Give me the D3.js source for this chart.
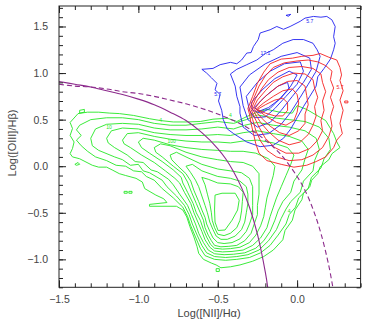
<!DOCTYPE html>
<html><head><meta charset="utf-8">
<script src="https://cdn.jsdelivr.net/npm/d3@7"></script>
<style>body{margin:0;background:#fff}text{font-family:"Liberation Sans",Arial,sans-serif}</style>
</head><body>
<svg id="c" width="365" height="322"></svg>
<script>
// Axis ticks
const xMajor = [-1.5, -1.0, -0.5, 0.0];
const yMajor = [-1.0, -0.5, 0.0, 0.5, 1.0, 1.5];
const xMinor = d3.range(-15, 5).map(d => d / 10);
const yMinor = d3.range(-13, 18).map(d => d / 10);

// Demarcation lines: [log NII/Ha, log OIII/Hb]
const kauffmann = [[-1.5,0.91],[-1.4,0.88],[-1.3,0.85],[-1.2,0.81],[-1.1,0.77],[-1.0,0.72],[-0.9,0.66],[-0.8,0.58],[-0.7,0.49],[-0.6,0.36],[-0.5,0.19],[-0.45,0.08],[-0.4,-0.06],[-0.35,-0.23],[-0.3,-0.44],[-0.25,-0.73],[-0.2,-1.14],[-0.185,-1.3]];
const kewley = [[-1.5,0.88],[-1.4,0.86],[-1.3,0.85],[-1.2,0.83],[-1.1,0.8],[-1.0,0.78],[-0.9,0.75],[-0.8,0.71],[-0.7,0.67],[-0.6,0.62],[-0.5,0.56],[-0.4,0.49],[-0.3,0.4],[-0.2,0.28],[-0.1,0.12],[0.0,-0.11],[0.05,-0.26],[0.1,-0.46],[0.15,-0.72],[0.2,-1.07],[0.225,-1.3]];

// Star-forming / composite density contours (outer to inner)
const greenContours = [
 [[-1.43,0.47],[-1.38,0.565],[-1.32,0.58],[-1.25,0.58],[-1.18,0.57],[-1.12,0.565],[-1.03,0.545],[-0.93,0.51],[-0.86,0.49],[-0.78,0.475],[-0.7,0.475],[-0.61,0.48],[-0.53,0.505],[-0.44,0.515],[-0.38,0.48],[-0.315,0.535],[-0.25,0.58],[-0.19,0.61],[-0.11,0.58],[-0.03,0.57],[0.0,0.65],[0.06,0.61],[0.1,0.57],[0.18,0.49],[0.23,0.35],[0.25,0.26],[0.27,0.2],[0.22,0.135],[0.2,0.07],[0.145,-0.007],[0.13,-0.08],[0.092,-0.15],[0.08,-0.22],[0.04,-0.29],[0.03,-0.36],[-0.013,-0.47],[-0.03,-0.58],[-0.076,-0.69],[-0.09,-0.79],[-0.15,-0.9],[-0.21,-0.97],[-0.28,-1.02],[-0.36,-1.06],[-0.42,-1.08],[-0.48,-1.09],[-0.51,-1.06],[-0.54,-1.04],[-0.59,-1.0],[-0.62,-0.935],[-0.63,-0.865],[-0.65,-0.76],[-0.675,-0.65],[-0.695,-0.545],[-0.72,-0.47],[-0.76,-0.43],[-0.93,-0.43],[-0.93,-0.41],[-0.82,-0.39],[-0.84,-0.35],[-0.89,-0.31],[-0.96,-0.24],[-0.975,-0.17],[-1.015,-0.13],[-1.08,-0.1],[-1.12,-0.08],[-1.165,-0.04],[-1.2,-0.01],[-1.25,-0.01],[-1.29,0.01],[-1.33,0.045],[-1.37,0.08],[-1.415,0.1],[-1.43,0.135],[-1.415,0.19],[-1.405,0.26],[-1.43,0.33],[-1.415,0.405]],
 [[-1.36,0.22],[-1.39,0.28],[-1.36,0.33],[-1.39,0.39],[-1.37,0.44],[-1.3,0.5],[-1.2,0.52],[-1.1,0.52],[-1.0,0.5],[-0.9,0.46],[-0.8,0.44],[-0.7,0.44],[-0.6,0.46],[-0.5,0.48],[-0.4,0.46],[-0.32,0.5],[-0.25,0.55],[-0.15,0.52],[-0.05,0.5],[0.05,0.48],[0.14,0.42],[0.2,0.3],[0.21,0.18],[0.17,0.08],[0.15,-0.02],[0.09,-0.12],[0.07,-0.24],[0.01,-0.34],[-0.01,-0.44],[-0.05,-0.52],[-0.07,-0.62],[-0.12,-0.74],[-0.17,-0.85],[-0.23,-0.93],[-0.3,-0.98],[-0.38,-1.0],[-0.45,-1.01],[-0.52,-1.0],[-0.58,-0.96],[-0.61,-0.88],[-0.64,-0.76],[-0.67,-0.64],[-0.69,-0.54],[-0.72,-0.44],[-0.78,-0.34],[-0.85,-0.24],[-0.9,-0.15],[-0.95,-0.11],[-0.98,-0.06],[-1.03,-0.05],[-1.08,0.0],[-1.14,0.01],[-1.2,0.06],[-1.27,0.1],[-1.32,0.16]],
 [[-1.3,0.3],[-1.27,0.4],[-1.2,0.45],[-1.1,0.46],[-1.0,0.45],[-0.9,0.41],[-0.8,0.39],[-0.7,0.39],[-0.6,0.4],[-0.5,0.42],[-0.4,0.4],[-0.33,0.44],[-0.25,0.47],[-0.15,0.44],[-0.05,0.42],[0.05,0.38],[0.12,0.3],[0.14,0.18],[0.11,0.06],[0.1,-0.05],[0.04,-0.16],[0.02,-0.28],[-0.04,-0.38],[-0.07,-0.46],[-0.1,-0.56],[-0.13,-0.68],[-0.18,-0.8],[-0.24,-0.9],[-0.31,-0.95],[-0.38,-0.97],[-0.45,-0.98],[-0.52,-0.97],[-0.57,-0.93],[-0.6,-0.85],[-0.63,-0.74],[-0.66,-0.62],[-0.68,-0.52],[-0.71,-0.42],[-0.76,-0.32],[-0.82,-0.22],[-0.85,-0.15],[-0.93,-0.07],[-0.97,-0.05],[-1.0,0.02],[-1.05,0.01],[-1.1,0.07],[-1.15,0.1],[-1.25,0.17],[-1.29,0.22]],
 [[-1.2,0.3],[-1.17,0.38],[-1.1,0.41],[-1.0,0.4],[-0.9,0.36],[-0.8,0.34],[-0.7,0.33],[-0.6,0.33],[-0.5,0.34],[-0.42,0.33],[-0.34,0.36],[-0.25,0.38],[-0.15,0.35],[-0.05,0.32],[0.03,0.27],[0.07,0.18],[0.05,0.08],[0.03,-0.04],[-0.02,-0.16],[-0.04,-0.28],[-0.09,-0.38],[-0.12,-0.48],[-0.14,-0.58],[-0.17,-0.7],[-0.21,-0.8],[-0.26,-0.88],[-0.33,-0.93],[-0.4,-0.945],[-0.46,-0.95],[-0.52,-0.94],[-0.56,-0.9],[-0.59,-0.82],[-0.62,-0.72],[-0.64,-0.62],[-0.665,-0.52],[-0.69,-0.42],[-0.74,-0.3],[-0.78,-0.2],[-0.81,-0.14],[-0.88,-0.06],[-0.92,-0.04],[-0.97,0.04],[-1.02,0.05],[-1.07,0.12],[-1.15,0.2],[-1.19,0.25]],
 [[-1.1,0.28],[-1.07,0.35],[-1.0,0.36],[-0.9,0.32],[-0.8,0.29],[-0.7,0.27],[-0.6,0.26],[-0.5,0.26],[-0.42,0.25],[-0.34,0.27],[-0.25,0.28],[-0.15,0.25],[-0.06,0.2],[-0.02,0.12],[-0.04,0.02],[-0.07,-0.1],[-0.1,-0.22],[-0.13,-0.34],[-0.15,-0.44],[-0.17,-0.54],[-0.19,-0.66],[-0.23,-0.77],[-0.28,-0.85],[-0.34,-0.9],[-0.41,-0.915],[-0.47,-0.92],[-0.52,-0.91],[-0.55,-0.87],[-0.58,-0.79],[-0.6,-0.7],[-0.625,-0.6],[-0.65,-0.5],[-0.67,-0.4],[-0.71,-0.28],[-0.74,-0.18],[-0.77,-0.13],[-0.83,-0.05],[-0.9,0.04],[-0.98,0.12],[-1.05,0.2],[-1.09,0.24]],
 [[-1.0,0.26],[-0.97,0.3],[-0.9,0.28],[-0.8,0.23],[-0.7,0.2],[-0.6,0.18],[-0.5,0.17],[-0.42,0.16],[-0.34,0.16],[-0.26,0.14],[-0.18,0.08],[-0.14,0.0],[-0.15,-0.1],[-0.17,-0.22],[-0.19,-0.34],[-0.2,-0.44],[-0.21,-0.54],[-0.23,-0.64],[-0.26,-0.74],[-0.3,-0.82],[-0.36,-0.87],[-0.42,-0.885],[-0.47,-0.89],[-0.52,-0.88],[-0.545,-0.84],[-0.57,-0.76],[-0.59,-0.68],[-0.61,-0.58],[-0.635,-0.5],[-0.655,-0.4],[-0.69,-0.28],[-0.72,-0.18],[-0.73,-0.12],[-0.78,-0.04],[-0.85,0.05],[-0.93,0.14],[-0.98,0.2]],
 [[-0.9,0.2],[-0.86,0.24],[-0.8,0.22],[-0.7,0.15],[-0.6,0.1],[-0.5,0.07],[-0.42,0.05],[-0.34,0.04],[-0.28,0.0],[-0.24,-0.08],[-0.24,-0.18],[-0.24,-0.3],[-0.25,-0.42],[-0.25,-0.52],[-0.27,-0.62],[-0.29,-0.72],[-0.33,-0.8],[-0.38,-0.85],[-0.43,-0.86],[-0.48,-0.865],[-0.52,-0.85],[-0.54,-0.8],[-0.56,-0.74],[-0.58,-0.66],[-0.59,-0.58],[-0.61,-0.5],[-0.635,-0.4],[-0.665,-0.28],[-0.69,-0.17],[-0.72,-0.08],[-0.78,0.0],[-0.85,0.1],[-0.89,0.15]],
 [[-0.8,0.12],[-0.76,0.15],[-0.7,0.1],[-0.6,0.02],[-0.5,-0.03],[-0.42,-0.05],[-0.35,-0.07],[-0.3,-0.13],[-0.28,-0.22],[-0.28,-0.32],[-0.28,-0.42],[-0.28,-0.52],[-0.3,-0.62],[-0.32,-0.7],[-0.36,-0.78],[-0.41,-0.82],[-0.46,-0.83],[-0.5,-0.82],[-0.53,-0.77],[-0.55,-0.7],[-0.57,-0.62],[-0.58,-0.55],[-0.6,-0.47],[-0.62,-0.38],[-0.65,-0.26],[-0.67,-0.16],[-0.7,-0.08],[-0.75,0.0],[-0.79,0.07]],
 [[-0.7,0.0],[-0.66,0.02],[-0.6,-0.05],[-0.5,-0.11],[-0.42,-0.13],[-0.36,-0.16],[-0.32,-0.22],[-0.31,-0.3],[-0.31,-0.4],[-0.32,-0.5],[-0.33,-0.6],[-0.35,-0.68],[-0.39,-0.75],[-0.44,-0.785],[-0.48,-0.785],[-0.51,-0.75],[-0.53,-0.68],[-0.55,-0.6],[-0.565,-0.5],[-0.58,-0.42],[-0.6,-0.32],[-0.62,-0.22],[-0.64,-0.15],[-0.67,-0.07]],
 [[-0.6,-0.12],[-0.56,-0.14],[-0.5,-0.18],[-0.42,-0.19],[-0.37,-0.22],[-0.34,-0.28],[-0.345,-0.38],[-0.35,-0.48],[-0.36,-0.58],[-0.38,-0.66],[-0.42,-0.72],[-0.46,-0.745],[-0.5,-0.73],[-0.52,-0.66],[-0.535,-0.58],[-0.54,-0.5],[-0.55,-0.4],[-0.565,-0.3],[-0.58,-0.2]],
 [[-0.517,-0.31],[-0.473,-0.29],[-0.39,-0.29],[-0.365,-0.365],[-0.375,-0.47],[-0.41,-0.58],[-0.454,-0.685],[-0.498,-0.69],[-0.517,-0.6],[-0.52,-0.47]],
 // isolated small islands
 [[-1.40,0.02],[-1.38,0.04],[-1.37,0.02],[-1.39,0.01]],
 [[-1.09,-0.27],[-1.07,-0.27],[-1.07,-0.29],[-1.09,-0.29]],
 [[-1.06,-0.27],[-1.04,-0.27],[-1.04,-0.29],[-1.06,-0.29]],
 [[-0.51,-1.10],[-0.49,-1.10],[-0.49,-1.13],[-0.51,-1.13]],
 [[-1.37,0.57],[-1.34,0.58],[-1.34,0.61],[-1.37,0.60]]
];

// Seyfert-like contours (outer to inner)
const blueContours = [
 [[-0.6,1.04],[-0.53,1.05],[-0.485,1.09],[-0.42,1.115],[-0.38,1.1],[-0.35,1.14],[-0.317,1.215],[-0.29,1.22],[-0.275,1.285],[-0.245,1.36],[-0.233,1.43],[-0.17,1.465],[-0.128,1.5],[-0.086,1.47],[-0.044,1.5],[0.019,1.555],[0.05,1.59],[0.103,1.608],[0.15,1.6],[0.187,1.608],[0.219,1.572],[0.24,1.5],[0.23,1.39],[0.24,1.32],[0.23,1.25],[0.21,1.15],[0.17,1.05],[0.13,0.96],[0.12,0.86],[0.08,0.75],[0.04,0.64],[0.0,0.52],[-0.04,0.4],[-0.086,0.3],[-0.15,0.225],[-0.233,0.21],[-0.317,0.26],[-0.4,0.35],[-0.44,0.4],[-0.465,0.5],[-0.475,0.6],[-0.495,0.7],[-0.485,0.77],[-0.517,0.82],[-0.505,0.89],[-0.54,0.95],[-0.57,1.0]],
 [[-0.42,0.99],[-0.38,1.04],[-0.317,1.09],[-0.254,1.14],[-0.2,1.21],[-0.15,1.25],[-0.09,1.32],[-0.025,1.36],[0.04,1.36],[0.1,1.32],[0.126,1.25],[0.145,1.18],[0.12,1.02],[0.07,0.88],[0.02,0.74],[-0.04,0.58],[-0.1,0.45],[-0.18,0.35],[-0.27,0.33],[-0.34,0.42],[-0.36,0.57],[-0.36,0.64],[-0.38,0.75],[-0.39,0.86]],
 [[-0.36,0.85],[-0.3,0.98],[-0.2,1.1],[-0.1,1.18],[0.0,1.22],[0.08,1.16],[0.09,1.04],[0.04,0.9],[-0.03,0.75],[-0.1,0.6],[-0.17,0.47],[-0.25,0.42],[-0.31,0.5],[-0.34,0.65]],
 [[-0.32,0.75],[-0.25,0.9],[-0.17,1.02],[-0.08,1.1],[0.02,1.12],[0.04,1.02],[0.0,0.88],[-0.07,0.75],[-0.14,0.62],[-0.2,0.53],[-0.27,0.52],[-0.3,0.6]],
 [[-0.29,0.68],[-0.22,0.82],[-0.14,0.94],[-0.05,1.02],[0.0,0.98],[-0.04,0.86],[-0.1,0.74],[-0.17,0.62],[-0.23,0.57],[-0.28,0.6]],
 [[-0.27,0.63],[-0.2,0.75],[-0.12,0.86],[-0.06,0.9],[-0.05,0.83],[-0.11,0.72],[-0.18,0.63],[-0.24,0.59]],
 [[-0.07,1.62],[-0.04,1.63],[-0.055,1.61]]
];

// LINER-like contours (outer to inner)
const redContours = [
 [[-0.31,0.62],[-0.28,0.75],[-0.25,0.89],[-0.21,1.01],[-0.17,1.1],[-0.1,1.15],[-0.03,1.16],[0.03,1.18],[0.1,1.19],[0.145,1.21],[0.2,1.17],[0.25,1.14],[0.27,1.06],[0.28,0.98],[0.27,0.92],[0.29,0.81],[0.27,0.71],[0.29,0.6],[0.27,0.46],[0.285,0.35],[0.25,0.28],[0.23,0.2],[0.18,0.1],[0.12,0.05],[0.06,0.01],[-0.02,-0.01],[-0.1,0.02],[-0.19,0.06],[-0.24,0.14],[-0.26,0.24],[-0.275,0.35],[-0.29,0.46],[-0.3,0.56]],
 [[-0.3,0.61],[-0.27,0.74],[-0.24,0.86],[-0.2,0.97],[-0.15,1.06],[-0.08,1.11],[0.0,1.13],[0.07,1.14],[0.13,1.12],[0.18,1.08],[0.22,1.02],[0.21,0.93],[0.23,0.84],[0.21,0.74],[0.23,0.64],[0.21,0.53],[0.22,0.43],[0.2,0.32],[0.16,0.2],[0.1,0.12],[0.03,0.07],[-0.05,0.06],[-0.13,0.1],[-0.19,0.17],[-0.23,0.27],[-0.26,0.38],[-0.28,0.5]],
 [[-0.29,0.61],[-0.26,0.73],[-0.22,0.84],[-0.18,0.93],[-0.12,1.01],[-0.05,1.06],[0.03,1.07],[0.1,1.05],[0.15,0.99],[0.16,0.9],[0.18,0.8],[0.16,0.7],[0.17,0.6],[0.15,0.49],[0.16,0.38],[0.13,0.28],[0.08,0.19],[0.01,0.14],[-0.07,0.14],[-0.14,0.2],[-0.2,0.3],[-0.24,0.42],[-0.27,0.53]],
 [[-0.28,0.61],[-0.25,0.71],[-0.2,0.81],[-0.15,0.9],[-0.09,0.96],[-0.02,1.0],[0.05,0.99],[0.1,0.93],[0.11,0.84],[0.13,0.74],[0.11,0.64],[0.12,0.54],[0.1,0.44],[0.07,0.34],[0.02,0.26],[-0.05,0.23],[-0.12,0.28],[-0.18,0.37],[-0.23,0.47],[-0.26,0.55]],
 [[-0.27,0.61],[-0.23,0.7],[-0.18,0.78],[-0.12,0.86],[-0.06,0.91],[0.0,0.92],[0.05,0.86],[0.06,0.76],[0.07,0.66],[0.05,0.56],[0.05,0.46],[0.01,0.38],[-0.05,0.33],[-0.11,0.36],[-0.17,0.43],[-0.22,0.51],[-0.25,0.57]],
 [[-0.26,0.61],[-0.21,0.68],[-0.15,0.75],[-0.09,0.81],[-0.03,0.83],[0.0,0.77],[0.01,0.68],[0.0,0.58],[-0.02,0.49],[-0.07,0.44],[-0.13,0.47],[-0.19,0.53],[-0.23,0.58]],
 [[-0.25,0.61],[-0.2,0.66],[-0.14,0.71],[-0.09,0.73],[-0.06,0.68],[-0.06,0.6],[-0.09,0.54],[-0.14,0.54],[-0.2,0.57]],
 [[0.3,0.7],[0.32,0.7],[0.32,0.68],[0.3,0.68]]
];

// Contour level labels: [x, y, text, colour index]
const levelLabels = [[-1.185,0.42,"10",0],[-0.79,0.27,"100",0],[-0.86,0.49,"4",0],[-0.42,0.55,"4",0],[-0.05,-0.48,"4",0],[-0.2,1.21,"17.1",1],[-0.5,0.77,"5.7",1],[0.08,1.56,"5.7",1],[0.27,0.85,"5.7",2]];

const W = 365, H = 322;
const m = {l: 59, r: 360.6, t: 6, b: 287.3};
const x = d3.scaleLinear().domain([-1.5, 0.4]).range([m.l, m.r]);
const y = d3.scaleLinear().domain([-1.3, 1.72]).range([m.b, m.t]);
const colors = ["#25e825", "#2020f0", "#f52020"];
const purple = "#8c2a8c";

const svg = d3.select("#c");
svg.append("rect").attr("width", W).attr("height", H).attr("fill", "#fff");
svg.append("clipPath").attr("id", "clip").append("rect")
  .attr("x", m.l).attr("y", m.t).attr("width", m.r - m.l).attr("height", m.b - m.t);

const plot = svg.append("g").attr("clip-path", "url(#clip)");
const ring = d3.line().x(d => x(d[0])).y(d => y(d[1])).curve(d3.curveLinearClosed);
const path = d3.line().x(d => x(d[0])).y(d => y(d[1])).curve(d3.curveCatmullRom);

[greenContours, blueContours, redContours].forEach((set, i) => {
  plot.append("g").selectAll("path").data(set).join("path")
    .attr("d", ring).attr("fill", "none").attr("stroke", colors[i])
    .attr("stroke-width", 0.9).attr("stroke-linejoin", "round");
});

plot.append("g").selectAll("text").data(levelLabels).join("text")
  .attr("x", d => x(d[0])).attr("y", d => y(d[1]))
  .attr("font-size", 5).attr("fill", d => colors[d[3]])
  .attr("text-anchor", "middle").attr("dy", "0.35em").text(d => d[2]);

plot.append("path").datum(kewley).attr("d", path).attr("fill", "none")
  .attr("stroke", purple).attr("stroke-width", 1.1).attr("stroke-dasharray", "5,3");
plot.append("path").datum(kauffmann).attr("d", path).attr("fill", "none")
  .attr("stroke", purple).attr("stroke-width", 1.1);

// Axes with inward ticks
const fmt = d3.format(".1f");
function styleAxis(g) {
  g.select(".domain").remove();
  g.selectAll("line").attr("stroke", "#222");
  g.selectAll("text").attr("fill", "#444").attr("font-size", 10.5)
    .style("font-family", '"Liberation Sans", Arial, sans-serif');
}
svg.append("g").attr("transform", `translate(0,${m.b})`)
  .call(d3.axisBottom(x).tickValues(xMinor).tickSize(-4).tickFormat("")).call(styleAxis);
svg.append("g").attr("transform", `translate(0,${m.b})`)
  .call(d3.axisBottom(x).tickValues(xMajor).tickSize(-7).tickPadding(8).tickFormat(fmt)).call(styleAxis);
svg.append("g").attr("transform", `translate(0,${m.t})`)
  .call(d3.axisTop(x).tickValues(xMinor).tickSize(-4).tickFormat("")).call(styleAxis);
svg.append("g").attr("transform", `translate(0,${m.t})`)
  .call(d3.axisTop(x).tickValues(xMajor).tickSize(-7).tickFormat("")).call(styleAxis);
svg.append("g").attr("transform", `translate(${m.l},0)`)
  .call(d3.axisLeft(y).tickValues(yMinor).tickSize(-4).tickFormat("")).call(styleAxis);
svg.append("g").attr("transform", `translate(${m.l},0)`)
  .call(d3.axisLeft(y).tickValues(yMajor).tickSize(-7).tickPadding(11).tickFormat(fmt)).call(styleAxis);
svg.append("g").attr("transform", `translate(${m.r},0)`)
  .call(d3.axisRight(y).tickValues(yMinor).tickSize(-4).tickFormat("")).call(styleAxis);
svg.append("g").attr("transform", `translate(${m.r},0)`)
  .call(d3.axisRight(y).tickValues(yMajor).tickSize(-7).tickFormat("")).call(styleAxis);

svg.append("rect").attr("x", m.l).attr("y", m.t).attr("width", m.r - m.l).attr("height", m.b - m.t)
  .attr("fill", "none").attr("stroke", "#222").attr("stroke-width", 1);

svg.append("text").attr("x", 209).attr("y", 317).attr("text-anchor", "middle")
  .attr("font-size", 11).attr("fill", "#444").text("Log([NII]/Hα)");
svg.append("text").attr("transform", "translate(16,143) rotate(-90)").attr("text-anchor", "middle")
  .attr("font-size", 11).attr("fill", "#444").text("Log([OIII]/Hβ)");
</script>
</body></html>
